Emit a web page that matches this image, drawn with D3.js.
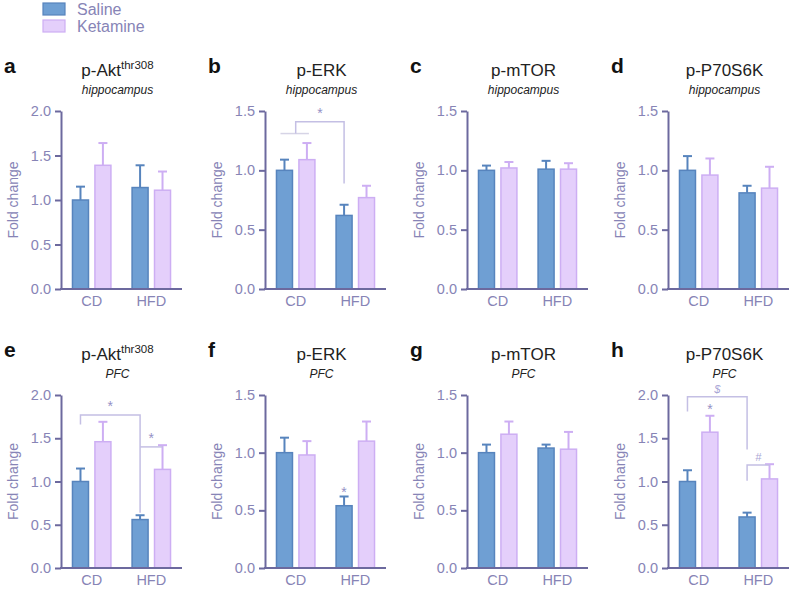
<!DOCTYPE html>
<html><head><meta charset="utf-8">
<script src="https://cdn.jsdelivr.net/npm/d3@7"></script>
<style>
html,body{margin:0;padding:0;background:#fff;}
svg{display:block;font-family:"Liberation Sans",Arial,sans-serif;}
</style></head>
<body>
<svg id="chart" width="790" height="593"></svg>
<script>
// ---------------- data ----------------
const groups = ["CD", "HFD"];
const treatments = ["Saline", "Ketamine"];
const panelLetters = ["a", "b", "c", "d", "e", "f", "g", "h"];
const proteinTitles = ["p-Akt", "p-ERK", "p-mTOR", "p-P70S6K", "p-Akt", "p-ERK", "p-mTOR", "p-P70S6K"];
const titleSuperscripts = ["thr308", "", "", "", "thr308", "", "", ""];
const regionLabels = ["hippocampus", "hippocampus", "hippocampus", "hippocampus", "PFC", "PFC", "PFC", "PFC"];
const yMaxima = [2.0, 1.5, 1.5, 1.5, 2.0, 1.5, 1.5, 2.0];
const yTickStep = 0.5;
const yAxisTitle = "Fold change";
// means [CD, HFD]
const salineMeans = [[1.00, 1.14], [1.00, 0.62], [1.00, 1.01], [1.00, 0.81], [1.00, 0.56], [1.00, 0.54], [1.00, 1.04], [1.00, 0.59]];
const salineErrors = [[0.15, 0.25], [0.09, 0.09], [0.04, 0.07], [0.12, 0.06], [0.15, 0.05], [0.13, 0.08], [0.07, 0.03], [0.13, 0.05]];
const ketamineMeans = [[1.39, 1.11], [1.09, 0.77], [1.02, 1.01], [0.96, 0.85], [1.46, 1.14], [0.98, 1.10], [1.16, 1.03], [1.57, 1.03]];
const ketamineErrors = [[0.25, 0.21], [0.14, 0.10], [0.05, 0.05], [0.14, 0.18], [0.23, 0.28], [0.12, 0.17], [0.11, 0.15], [0.19, 0.17]];
// significance brackets (data units): panel, from/to bar, bracket level, leg ends, symbol
const brackets = [
  {panel: 1, from: ["CD", "Mid"], to: ["HFD", "Saline"], level: 1.41, leftEnd: 1.31, rightEnd: 0.89, symbol: "*", groupLine: ["CD", 1.31]},
  {panel: 4, from: ["CD", "Saline"], to: ["HFD", "Saline"], level: 1.77, leftEnd: 1.66, rightEnd: 0.64, symbol: "*"},
  {panel: 4, from: ["HFD", "Saline"], to: ["HFD", "Ketamine"], level: 1.40, leftEnd: 1.40, rightEnd: 1.40, symbol: "*"},
  {panel: 7, from: ["CD", "Saline"], to: ["HFD", "Saline"], level: 1.98, leftEnd: 1.81, rightEnd: 1.37, symbol: "$"},
  {panel: 7, from: ["HFD", "Saline"], to: ["HFD", "Ketamine"], level: 1.19, leftEnd: 1.01, rightEnd: 1.19, symbol: "#"}
];
// symbols placed above single bars
const barMarks = [
  {panel: 5, group: "HFD", treatment: "Saline", value: 0.68, symbol: "*"},
  {panel: 7, group: "CD", treatment: "Ketamine", value: 1.86, symbol: "*"}
];

// ---------------- style ----------------
const colFill = {Saline: "#6f9fd3", Ketamine: "#e4cffb"};
const colStroke = {Saline: "#5784bd", Ketamine: "#cdaef3"};
const axisColor = "#6c699e";
const tickTextColor = "#8784b6";
const bracketColor = "#c4bfe4";
const markColor = "#9591c6";

const colX = [61, 265, 467, 668];
const rowY0 = [289, 568];
const rowH = [178, 173];
const plotW = 121;

const svg = d3.select("#chart");

// legend
const legend = svg.append("g");
treatments.forEach((t, i) => {
  legend.append("rect").attr("x", 43).attr("y", 3 + i * 17).attr("width", 22).attr("height", 12)
    .attr("fill", colFill[t]).attr("stroke", colStroke[t]).attr("stroke-width", 1.2);
  legend.append("text").attr("x", 77).attr("y", 15 + i * 17).text(t)
    .attr("font-size", 16).attr("fill", tickTextColor);
});

panelLetters.forEach((letter, p) => {
  const col = p % 4, row = Math.floor(p / 4);
  const x0 = colX[col], y0 = rowY0[row], h = rowH[row];
  const g = svg.append("g").attr("transform", `translate(${x0},${y0 - h})`);

  const x = d3.scaleBand().domain(groups).range([0, plotW]).paddingInner(0.33).paddingOuter(0.18);
  const xs = d3.scaleBand().domain(treatments).range([0, x.bandwidth()]).paddingInner(0.22);
  const y = d3.scaleLinear().domain([0, yMaxima[p]]).range([h, 0]);
  const cx = (grp, tr) => tr === "Mid" ? x(grp) + x.bandwidth() / 2 : x(grp) + xs(tr) + xs.bandwidth() / 2;

  // panel letter
  svg.append("text").attr("x", colX[col] - 57).attr("y", y0 - h - 38).text(letter)
    .attr("font-size", 21).attr("font-weight", "bold").attr("fill", "#111");
  // titles
  const tcx = x0 + plotW / 2 - 4;
  const t = svg.append("text").attr("x", tcx).attr("y", y0 - h - 35).attr("text-anchor", "middle")
    .attr("font-size", 17).attr("fill", "#222");
  t.append("tspan").text(proteinTitles[p]);
  if (titleSuperscripts[p]) t.append("tspan").attr("dy", -7).attr("font-size", 11.5).text(titleSuperscripts[p]);
  svg.append("text").attr("x", tcx).attr("y", y0 - h - 17).attr("text-anchor", "middle")
    .attr("font-size", 12).attr("font-style", "italic").attr("fill", "#222").text(regionLabels[p]);

  // bars
  const rows = [];
  groups.forEach((grp, gi) => {
    rows.push({grp, tr: "Saline", mean: salineMeans[p][gi], err: salineErrors[p][gi]});
    rows.push({grp, tr: "Ketamine", mean: ketamineMeans[p][gi], err: ketamineErrors[p][gi]});
  });
  // error bars (upper only)
  rows.forEach(d => {
    const c = cx(d.grp, d.tr);
    g.append("line").attr("x1", c).attr("x2", c).attr("y1", y(d.mean)).attr("y2", y(d.mean + d.err))
      .attr("stroke", colStroke[d.tr]).attr("stroke-width", 2);
    g.append("line").attr("x1", c - 4.5).attr("x2", c + 4.5).attr("y1", y(d.mean + d.err)).attr("y2", y(d.mean + d.err))
      .attr("stroke", colStroke[d.tr]).attr("stroke-width", 2);
  });
  g.selectAll("rect.bar").data(rows).join("rect").attr("class", "bar")
    .attr("x", d => x(d.grp) + xs(d.tr) + 0.75).attr("width", xs.bandwidth() - 1.5)
    .attr("y", d => y(d.mean)).attr("height", d => y(0) - y(d.mean))
    .attr("fill", d => colFill[d.tr]).attr("stroke", d => colStroke[d.tr]).attr("stroke-width", 1.5);

  // brackets
  brackets.filter(b => b.panel === p).forEach(b => {
    const xa = cx(b.from[0], b.from[1]), xb = cx(b.to[0], b.to[1]);
    if (b.groupLine) {
      const gg = b.groupLine[0];
      g.append("line").attr("x1", cx(gg, "Saline") - 4).attr("x2", cx(gg, "Ketamine") + 2)
        .attr("y1", y(b.groupLine[1])).attr("y2", y(b.groupLine[1]))
        .attr("stroke", "#d6d4e6").attr("stroke-width", 1.5);
    }
    const path = d3.path();
    path.moveTo(xa, y(b.leftEnd)); path.lineTo(xa, y(b.level)); path.lineTo(xb, y(b.level)); path.lineTo(xb, y(b.rightEnd));
    g.append("path").attr("d", path.toString()).attr("fill", "none").attr("stroke", bracketColor).attr("stroke-width", 1.5);
    g.append("text").attr("x", (xa + xb) / 2).attr("y", y(b.level) - 4).attr("text-anchor", "middle")
      .attr("font-size", b.symbol === "*" ? 14 : 11).attr("font-style", b.symbol === "*" ? "normal" : "italic")
      .attr("fill", b.symbol === "*" ? markColor : "#aaa6d6").text(b.symbol);
  });
  barMarks.filter(m => m.panel === p).forEach(m => {
    g.append("text").attr("x", cx(m.group, m.treatment)).attr("y", y(m.value) + 7).attr("text-anchor", "middle")
      .attr("font-size", 14).attr("fill", markColor).text(m.symbol);
  });

  // axes
  const yAxis = d3.axisLeft(y).tickValues(d3.range(0, yMaxima[p] + 1e-9, yTickStep))
    .tickFormat(d3.format(".1f")).tickSize(6).tickSizeOuter(0).tickPadding(4);
  const ya = g.append("g").call(yAxis);
  ya.select(".domain").attr("stroke", axisColor).attr("stroke-width", 2);
  ya.selectAll(".tick line").attr("stroke", axisColor).attr("stroke-width", 2);
  ya.selectAll(".tick text").attr("fill", tickTextColor).attr("font-size", 14.5)
    .attr("font-family", "Liberation Sans, Arial, sans-serif");
  const xAxis = d3.axisBottom(x).tickSize(0).tickSizeOuter(0).tickPadding(7);
  const xa = g.append("g").attr("transform", `translate(0,${h})`).call(xAxis);
  xa.select(".domain").attr("stroke", axisColor).attr("stroke-width", 2).attr("d", `M-1,0H${plotW}`);
  xa.selectAll(".tick text").attr("fill", tickTextColor).attr("font-size", 14.5)
    .attr("font-family", "Liberation Sans, Arial, sans-serif");

  // axis title
  g.append("text").attr("transform", `translate(-43,${h / 2}) rotate(-90)`).attr("text-anchor", "middle")
    .attr("font-size", 14).attr("fill", tickTextColor).text(yAxisTitle);
});
</script>
</body></html>
